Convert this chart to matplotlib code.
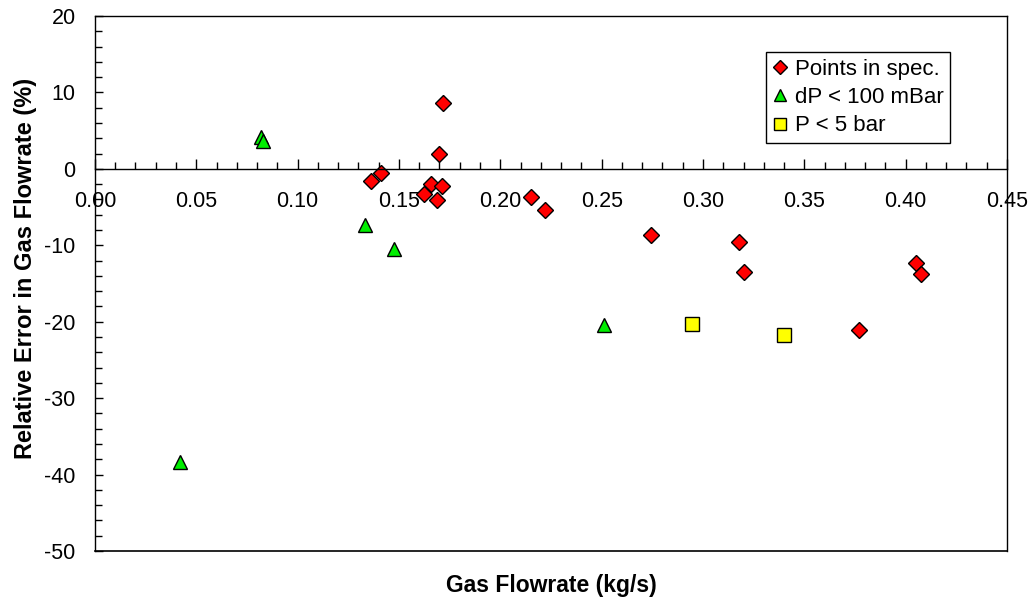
import matplotlib.pyplot as plt
from matplotlib.ticker import MultipleLocator, FormatStrFormatter

plt.rcParams["font.family"] = ["Liberation Sans", "DejaVu Sans"]
plt.rcParams["axes.unicode_minus"] = False

# Points in spec.
spec_x = [0.136, 0.141, 0.1716, 0.170, 0.1656, 0.1714, 0.1625, 0.169,
          0.215, 0.222, 0.2745, 0.3176, 0.3204, 0.405, 0.4077, 0.3771]
spec_y = [-1.6, -0.5, 8.6, 2.0, -2.0, -2.3, -3.3, -4.1,
          -3.7, -5.4, -8.65, -9.6, -13.5, -12.35, -13.7, -21.1]

# dP < 100 mBar
dp_x = [0.0819, 0.0828, 0.1332, 0.1477, 0.0419, 0.251]
dp_y = [4.2, 3.6, -7.4, -10.5, -38.4, -20.4]

# P < 5 bar
p_x = [0.2947, 0.3401]
p_y = [-20.25, -21.7]

fig = plt.figure(figsize=(10.31, 5.99), dpi=100)
ax = fig.add_axes([0.0921, 0.0801, 0.8846, 0.8932])

ax.plot(spec_x, spec_y, linestyle="none", marker="D", markersize=8,
        markerfacecolor="#ff0000", markeredgecolor="black", markeredgewidth=1,
        label="Points in spec.")
ax.plot(dp_x, dp_y, linestyle="none", marker="^", markersize=9.5,
        markerfacecolor="#00ee00", markeredgecolor="black", markeredgewidth=1,
        label="dP < 100 mBar")
ax.plot(p_x, p_y, linestyle="none", marker="s", markersize=9.5,
        markerfacecolor="#ffff00", markeredgecolor="black", markeredgewidth=1,
        label="P < 5 bar")

ax.set_xlim(0, 0.45)
ax.set_ylim(-50, 20)

# x axis crosses at y = 0, frame drawn around the plot
ax.spines["bottom"].set_position(("data", 0))
for s in ax.spines.values():
    s.set_linewidth(1)
ax.plot([0, 1], [0, 0], transform=ax.transAxes, color="black", lw=1.2,
        clip_on=False)

ax.xaxis.set_major_locator(MultipleLocator(0.05))
ax.xaxis.set_minor_locator(MultipleLocator(0.01))
ax.xaxis.set_major_formatter(FormatStrFormatter("%.2f"))
ax.yaxis.set_major_locator(MultipleLocator(10))
ax.yaxis.set_minor_locator(MultipleLocator(2))

ax.tick_params(axis="x", which="major", direction="in", length=7, width=1,
               labelsize=15.5, pad=16)
ax.tick_params(axis="x", which="minor", direction="in", length=5, width=1)
ax.tick_params(axis="y", which="major", direction="in", length=6, width=1,
               labelsize=15.5, pad=14)
ax.tick_params(axis="y", which="minor", direction="in", length=5, width=1)

ax.set_xlabel("Gas Flowrate (kg/s)", fontsize=16.5, fontweight="bold")
ax.xaxis.set_label_coords(0.5, -0.043)
ax.set_ylabel("Relative Error in Gas Flowrate (%)", fontsize=17,
              fontweight="bold")
ax.yaxis.set_label_coords(-0.063, 0.529)

leg = ax.legend(loc="upper right", bbox_to_anchor=(0.9375, 0.9327),
                fontsize=16, fancybox=False, framealpha=1, edgecolor="black",
                handlelength=0.7, handletextpad=0.3, borderpad=0.3,
                labelspacing=0.33, markerscale=0.85, borderaxespad=0)
leg.get_frame().set_linewidth(1)

fig.savefig("out.png", dpi=100)
